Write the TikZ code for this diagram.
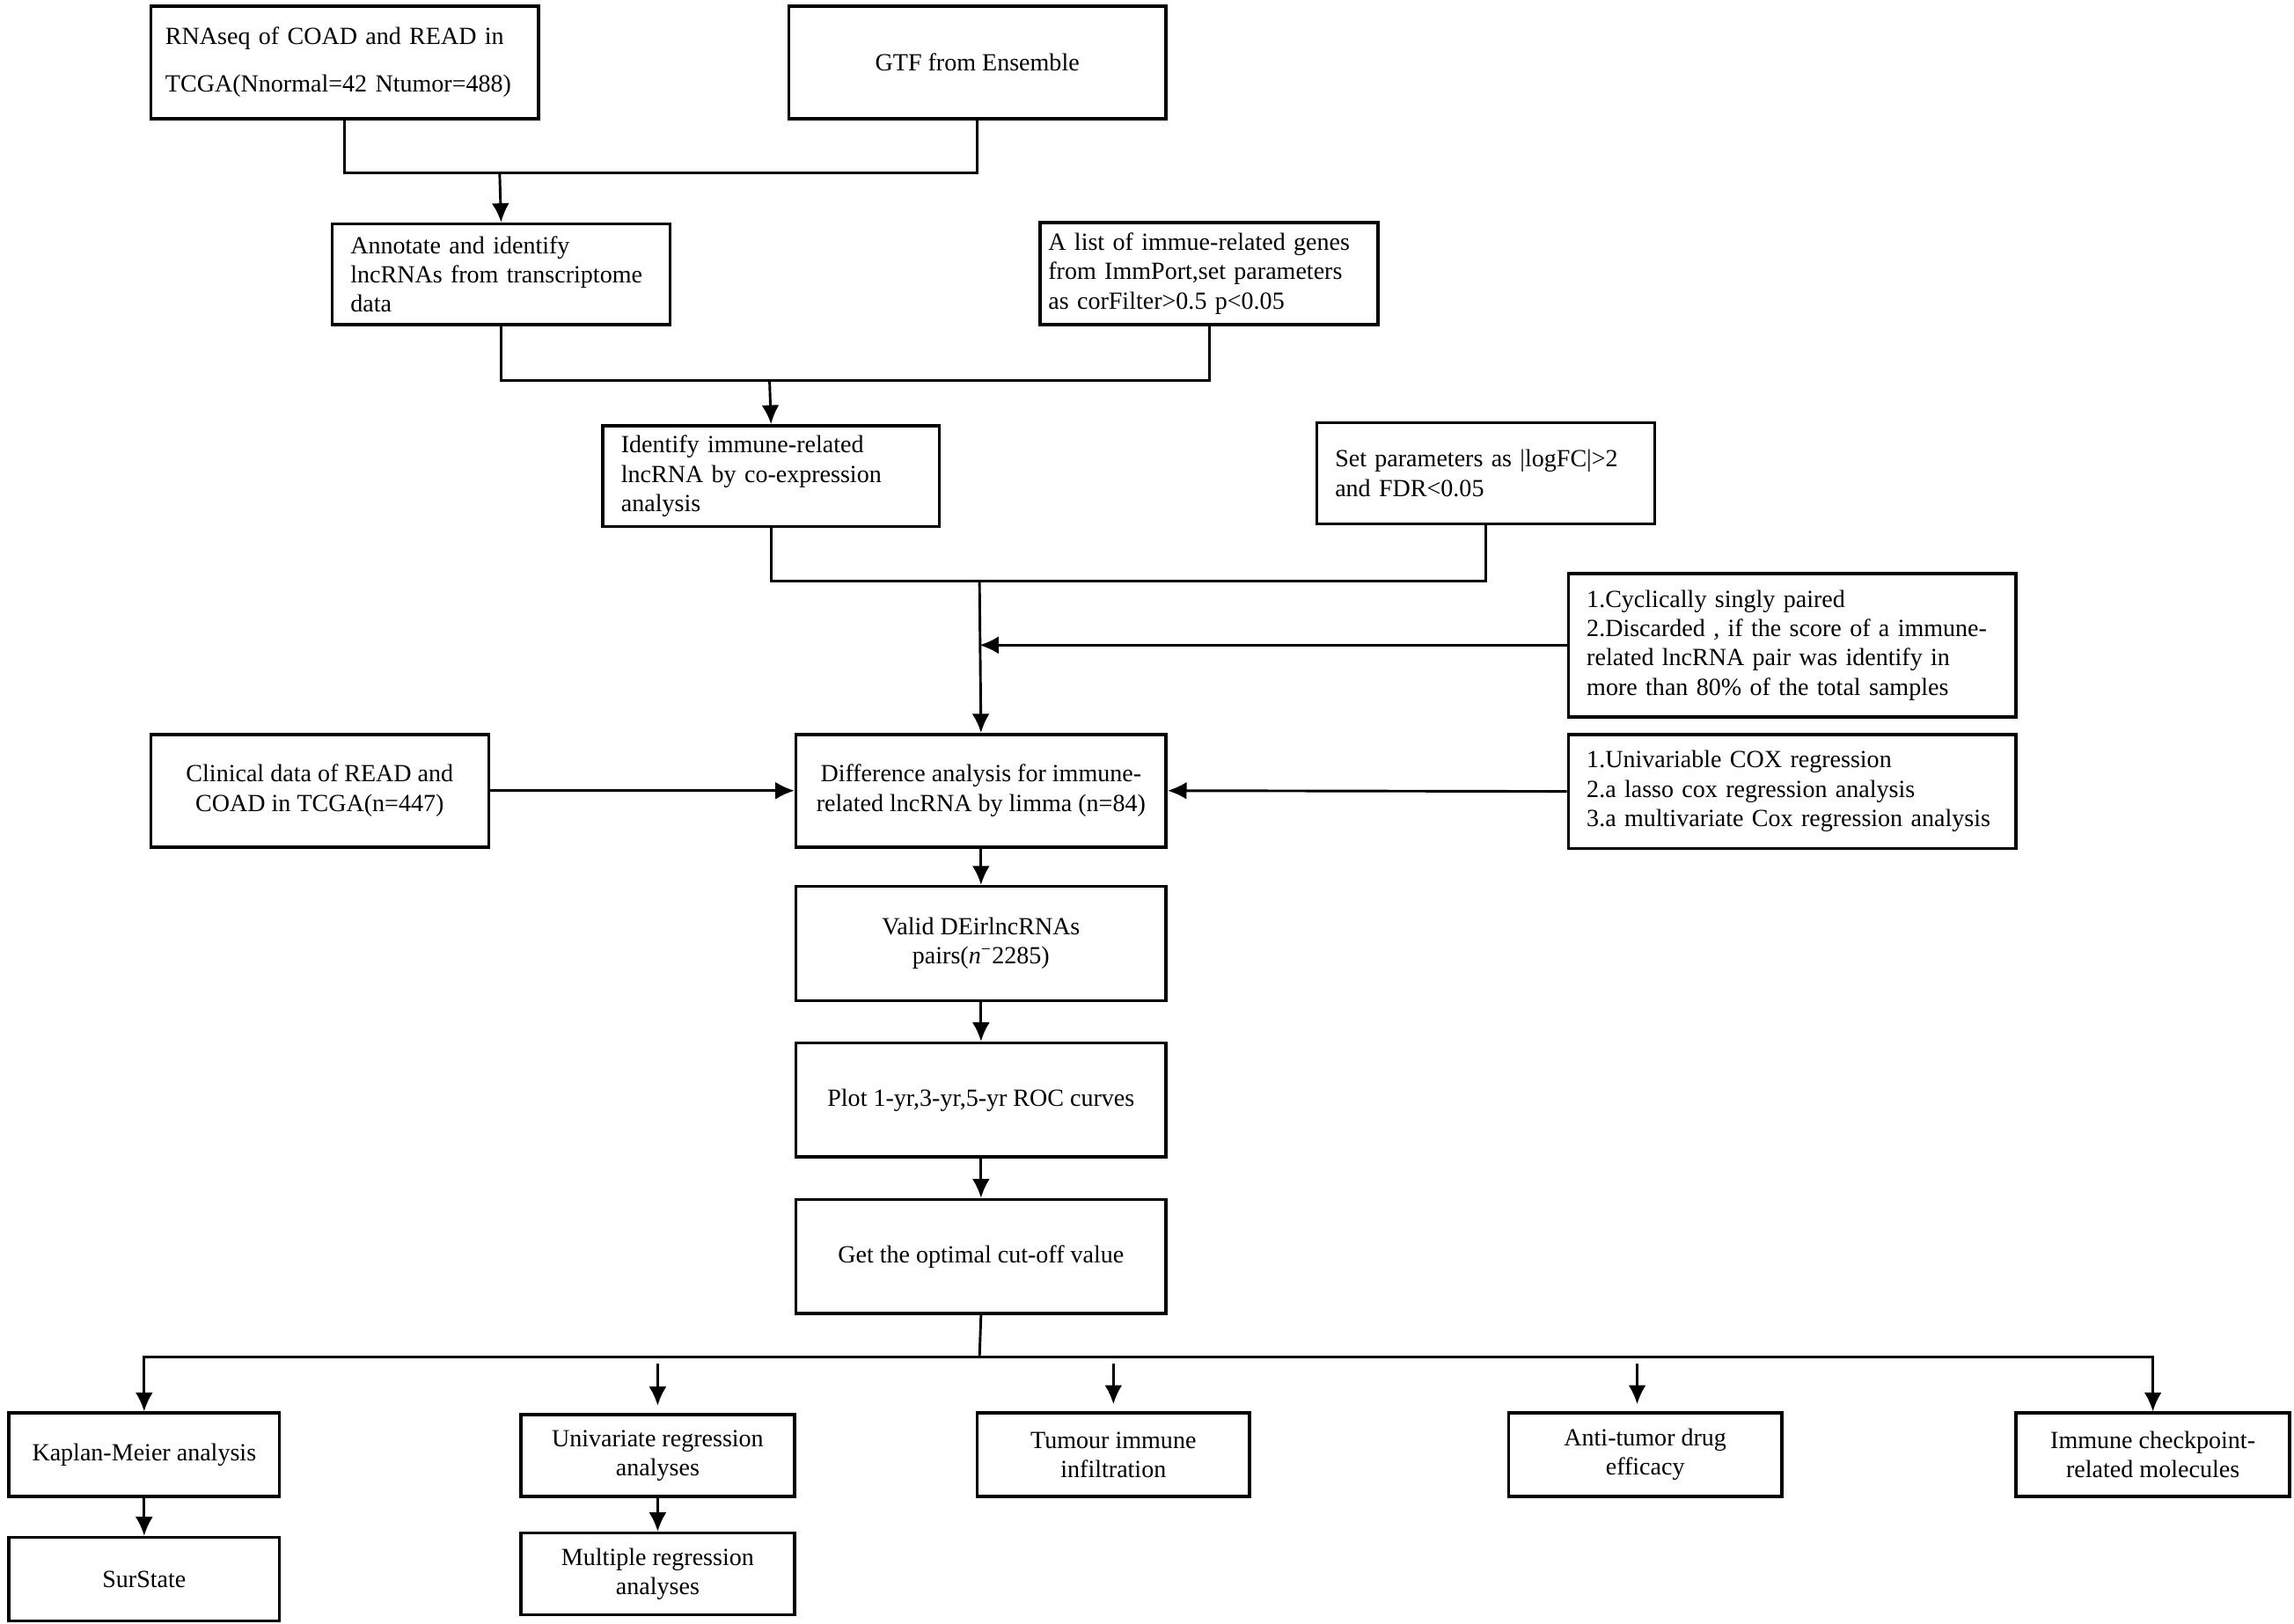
\documentclass[tikz,border=0pt]{standalone}
\usepackage{fontspec}
\setmainfont{Liberation Serif}
\usetikzlibrary{arrows.meta}

\begin{document}
\begin{tikzpicture}[x=0.02cm, y=-0.02cm,
    box/.style={draw, line width=1.2pt, inner sep=0pt, anchor=north west, font=\fontsize{9.6}{11.4}\selectfont},
    lbox/.style={box, align=left},
    cbox/.style={box, align=center},
    line/.style={line width=1pt},
    arr/.style={line width=1pt, -{Latex[length=2.6mm,width=2.4mm]}}]

    \useasboundingbox (0,0) rectangle (1568,1109.7);

    \node[lbox, minimum width=5.30cm, minimum height=1.54cm, text width=4.9cm] (rna) at (102,3) {RNAseq of COAD and READ in\\[7pt]TCGA(Nnormal=42 Ntumor=488)};
    \node[cbox, minimum width=5.16cm, minimum height=1.54cm] (gtf) at (538,3) {GTF from Ensemble};

    \node[lbox, minimum width=4.62cm, minimum height=1.38cm, text width=4.12cm] (annot) at (226,152) {Annotate and identify\\lncRNAs from transcriptome\\data};
    \node[lbox, minimum width=4.62cm, minimum height=1.40cm, text width=4.4cm] (genes) at (710,151) {A list of immue-related genes\\from ImmPort,set parameters\\as corFilter>0.5 p<0.05};

    \node[lbox, minimum width=4.60cm, minimum height=1.38cm, text width=4.10cm] (ident) at (411,290) {Identify immune-related\\lncRNA by co-expression\\analysis};
    \node[lbox, minimum width=4.62cm, minimum height=1.38cm, text width=4.12cm] (setp) at (899,288) {Set parameters as |logFC|>2\\and FDR<0.05};

    \node[lbox, minimum width=6.12cm, minimum height=1.96cm, text width=5.62cm] (cyc) at (1071,391) {1.Cyclically singly paired\\2.Discarded , if the score of a immune-\\related lncRNA pair was identify in\\more than 80\% of the total samples};

    \node[cbox, minimum width=4.62cm, minimum height=1.54cm] (clin) at (102,501) {Clinical data of READ and\\COAD in TCGA(n=447)};
    \node[cbox, minimum width=5.06cm, minimum height=1.54cm] (diff) at (543,501) {Difference analysis for immune-\\related lncRNA by limma (n=84)};
    \node[lbox, minimum width=6.12cm, minimum height=1.56cm, text width=5.62cm] (cox) at (1071,501) {1.Univariable COX regression\\2.a lasso cox regression analysis\\3.a multivariate Cox regression analysis};

    \node[cbox, minimum width=5.06cm, minimum height=1.56cm] (valid) at (543,605) {Valid DEirlncRNAs\\pairs(\textit{n}\textsuperscript{−}2285)};
    \node[cbox, minimum width=5.06cm, minimum height=1.56cm] (plot) at (543,712) {Plot 1-yr,3-yr,5-yr ROC curves};
    \node[cbox, minimum width=5.06cm, minimum height=1.56cm] (cut) at (543,819) {Get the optimal cut-off value};

    \node[cbox, minimum width=3.70cm, minimum height=1.14cm] (km) at (5,965) {Kaplan-Meier analysis};
    \node[cbox, minimum width=3.70cm, minimum height=1.14cm] (sur) at (5,1050) {SurState};
    \node[cbox, minimum width=3.74cm, minimum height=1.12cm] (uni) at (355,966) {Univariate regression\\analyses};
    \node[cbox, minimum width=3.74cm, minimum height=1.12cm] (mul) at (355,1047) {Multiple regression\\analyses};
    \node[cbox, minimum width=3.72cm, minimum height=1.14cm] (tum) at (667,965) {Tumour immune\\infiltration};
    \node[cbox, minimum width=3.74cm, minimum height=1.14cm] (anti) at (1030,965) {Anti-tumor drug\\efficacy};
    \node[cbox, minimum width=3.74cm, minimum height=1.14cm] (chk) at (1377,965) {Immune checkpoint-\\related molecules};

    \coordinate (j1) at (341.5,118);
    \coordinate (j2) at (526,260);
    \coordinate (j3) at (669.5,397);
    \coordinate (split) at (669.5,928);

    \draw[line] (rna.south) |- (j1) -| (gtf.south);
    \draw[arr] (j1) -- (annot.north);
    \draw[line] (annot.south) |- (j2) -| (genes.south);
    \draw[arr] (j2) -- (ident.north);
    \draw[line] (ident.south) |- (j3) -| (setp.south);
    \draw[arr] (j3) -- (diff.north);
    \draw[arr] (cyc.west) -- (cyc.west -| j3);

    \draw[arr] (clin.east) -- (diff.west);
    \draw[arr] (cox.west) -- (diff.east);
    \draw[arr] (diff.south) -- (valid.north);
    \draw[arr] (valid.south) -- (plot.north);
    \draw[arr] (plot.south) -- (cut.north);

    \draw[line] (cut.south) -- (split);
    \draw[arr] (split) -| (km.north);
    \draw[arr] (split) -| (chk.north);
    \draw[arr] ([yshift=-0.08cm]uni.north |- split) -- ([yshift=0.1cm]uni.north);
    \draw[arr] ([yshift=-0.08cm]tum.north |- split) -- ([yshift=0.1cm]tum.north);
    \draw[arr] ([xshift=-0.11cm,yshift=-0.08cm]anti.north |- split) -- ([xshift=-0.11cm,yshift=0.1cm]anti.north);
    \draw[arr] (km.south) -- (sur.north);
    \draw[arr] (uni.south) -- (mul.north);

\end{tikzpicture}
\end{document}
